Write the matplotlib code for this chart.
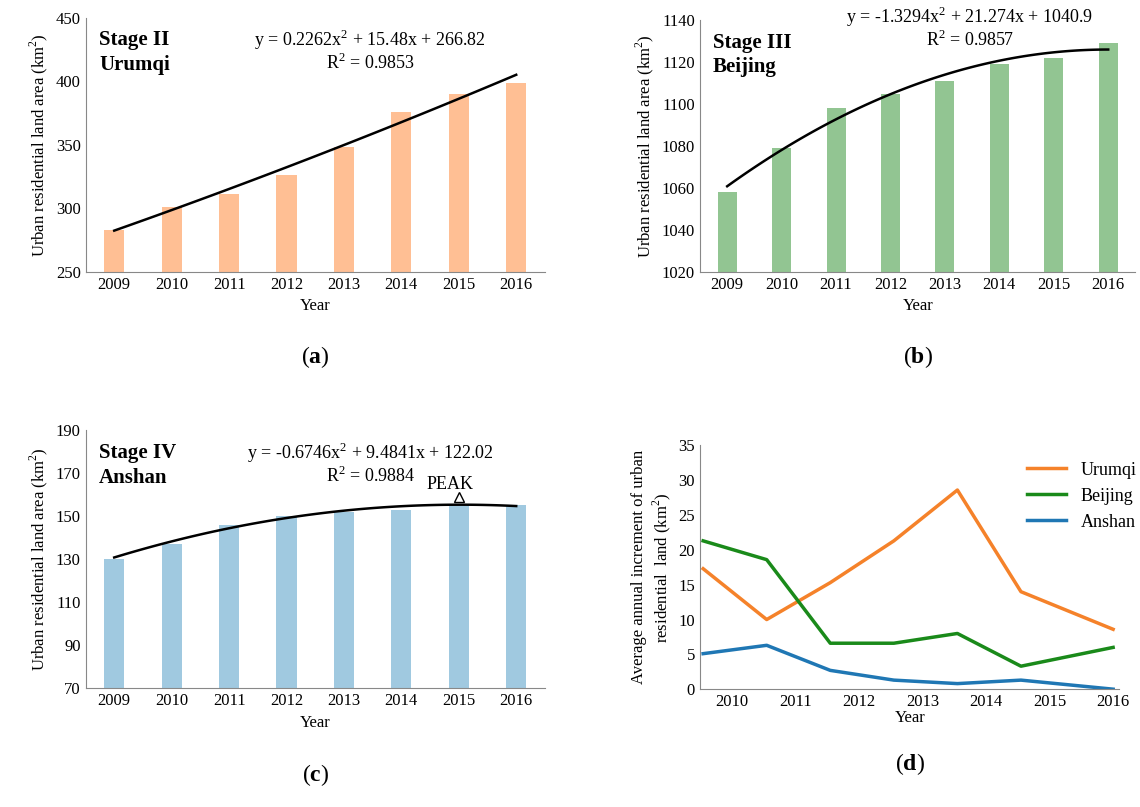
import numpy as np
import matplotlib.pyplot as plt

plt.rcParams['font.family'] = ['Liberation Serif', 'DejaVu Serif']
plt.rcParams['mathtext.fontset'] = 'custom'
plt.rcParams['mathtext.rm'] = 'Liberation Serif'
plt.rcParams['mathtext.bf'] = 'Liberation Serif:bold'
plt.rcParams['font.size'] = 12

years = ['2009', '2010', '2011', '2012', '2013', '2014', '2015', '2016']
urumqi = [283, 301, 311, 326, 348, 376, 390, 399]
beijing = [1058, 1079, 1098, 1105, 1111, 1119, 1122, 1129]
anshan = [130, 137, 146, 150, 152, 153, 155, 155]

fit_a = [0.2262, 15.48, 266.82]
fit_b = [-1.3294, 21.274, 1040.9]
fit_c = [-0.6746, 9.4841, 122.02]

inc_years = ['2010', '2011', '2012', '2013', '2014', '2015', '2016']
inc_pos = [-0.45, 0.55, 1.55, 2.55, 3.55, 4.55, 6.0]
inc_urumqi = [17.3, 10.0, 15.3, 21.3, 28.6, 14.0, 8.6]
inc_beijing = [21.3, 18.6, 6.6, 6.6, 8.0, 3.3, 6.0]
inc_anshan = [5.1, 6.3, 2.7, 1.3, 0.8, 1.3, 0.0]

fig = plt.figure(figsize=(11.4, 8.07), dpi=100)

def bar_panel(rect, vals, color, fit, ylim, step, title, eq, r2, letter, eqy=0.96):
    ax = fig.add_axes(rect)
    x = np.arange(len(years))
    ax.bar(x, vals, width=0.35, color=color, zorder=2)
    xs = np.linspace(0, len(years) - 1, 100)
    ax.plot(xs, np.polyval(fit, xs + 1), color='black', lw=1.8, zorder=3)
    ax.set_xlim(-0.5, len(years) - 0.5)
    ax.set_ylim(*ylim)
    ax.set_yticks(np.arange(ylim[0], ylim[1] + 1, step))
    ax.set_xticks(x, years)
    ax.set_xlabel('Year', fontsize=12)
    ax.set_ylabel('Urban residential land area (km$^2$)', fontsize=12)
    for s in ['top', 'right']:
        ax.spines[s].set_visible(False)
    ax.spines['left'].set_color('#888888')
    ax.spines['bottom'].set_color('#888888')
    ax.tick_params(length=0, labelsize=12)
    ax.text(0.03, 0.95, title, transform=ax.transAxes, fontsize=15,
            fontweight='bold', va='top', linespacing=1.3)
    ax.text(0.62, eqy, eq, transform=ax.transAxes, ha='center', va='top', fontsize=13)
    ax.text(0.62, eqy - 0.1, r2, transform=ax.transAxes, ha='center', va='top', fontsize=13)
    ax.text(0.5, -0.36, letter, transform=ax.transAxes, ha='center', fontsize=17)
    return ax

bar_panel([0.075, 0.663, 0.403, 0.315], urumqi, '#ffbf94', fit_a, (250, 450), 50,
          'Stage II\nUrumqi', 'y = 0.2262x$^2$ + 15.48x + 266.82', 'R$^2$ = 0.9853', '($\\mathbf{a}$)')
bar_panel([0.614, 0.663, 0.382, 0.312], beijing, '#92c592', fit_b, (1020, 1140), 20,
          'Stage III\nBeijing', 'y = -1.3294x$^2$ + 21.274x + 1040.9', 'R$^2$ = 0.9857', '($\\mathbf{b}$)',
          eqy=1.06)
axc = bar_panel([0.075, 0.147, 0.403, 0.32], anshan, '#a0c9e0', fit_c, (70, 190), 20,
                'Stage IV\nAnshan', 'y = -0.6746x$^2$ + 9.4841x + 122.02', 'R$^2$ = 0.9884', '($\\mathbf{c}$)')
axc.plot([6], [159], marker='^', mfc='white', mec='black', ms=7)
axc.text(5.85, 161, 'PEAK', ha='center', va='bottom', fontsize=13)

axd = fig.add_axes([0.614, 0.146, 0.368, 0.302])
axd.plot(inc_pos, inc_urumqi, color='#f5822a', lw=2.5, label='Urumqi')
axd.plot(inc_pos, inc_beijing, color='#1a8a1a', lw=2.5, label='Beijing')
axd.plot(inc_pos, inc_anshan, color='#1f77b4', lw=2.5, label='Anshan')
axd.set_xlim(-0.5, 6.1)
axd.set_ylim(0, 35)
axd.set_yticks(np.arange(0, 36, 5))
axd.set_xticks(np.arange(len(inc_years)), inc_years)
axd.set_xlabel('Year', fontsize=12, labelpad=0)
axd.set_ylabel('Average annual increment of urban\nresidential  land (km$^2$)', fontsize=12)
for s in ['top', 'right']:
    axd.spines[s].set_visible(False)
axd.spines['left'].set_color('#888888')
axd.spines['bottom'].set_color('#888888')
axd.tick_params(length=0, labelsize=12)
axd.legend(loc='upper right', bbox_to_anchor=(1.08, 1.0), frameon=False, fontsize=13, handlelength=2.2)
axd.text(0.5, -0.33, '($\\mathbf{d}$)', transform=axd.transAxes, ha='center', fontsize=17)

fig.savefig('out.png', dpi=100)
